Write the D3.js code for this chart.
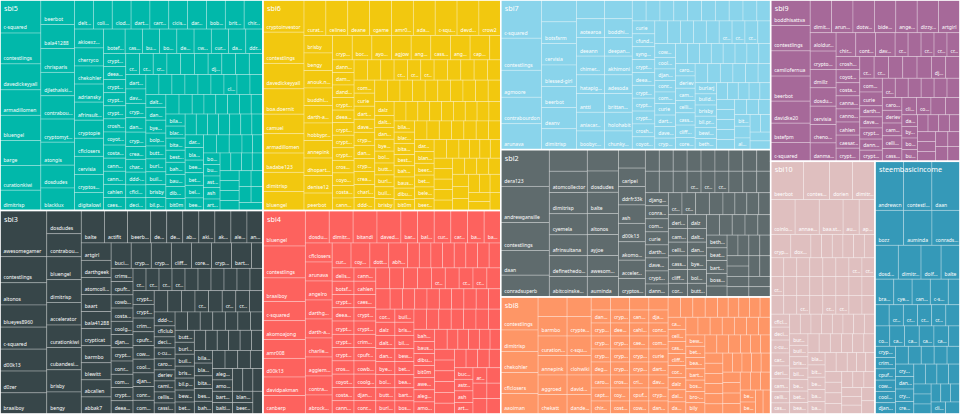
<!DOCTYPE html>
<html><head><meta charset="utf-8">
<script src="https://cdn.jsdelivr.net/npm/d3@7"></script>
<style>html,body{margin:0;padding:0;background:#fff;overflow:hidden}svg{display:block}</style>
</head><body><svg id="chart" width="960" height="414"></svg>
<script>
const groupNames = ["sbi5","sbi3","sbi6","sbi4","sbi7","sbi2","sbi8","sbi9","sbi10","steembasicincome"];
const groupColors = ["#01B8AA","#374649","#F2C80F","#FD625E","#8AD4EB","#5F6B6D","#FE9666","#A66999","#DFBFBF","#3599B8"];

const sbi5Names = ["c-squared","contestlings","davedickeyyall","armadillomen","bluengel","barge","curationkiwi","dimitrisp","beerbot","bala41288","chrisparis","djlethalskillz","contrabourdon","cryptomythical","atongis","dosdudes","blacklux","deltastar","colinhoward","clodius","darthnava","carrinm","cicisaja","darkflame","bobaphet","brittandjosie","chireerocks","akioexzgamer","cherryco","chekohler","adriansky","afrinsultana","cryptopie","cflclosers","cervisia","cryptoseeker","digitalowl","botefarm","cassidy","bucipuci","bodie7","degrinaldi","cwow2","currie","davidke20","ddrfr33k"];
const sbi5Values = [1350,1260,1060,1040,1030,1020,1010,830,
830,810,800,790,785,780,775,770,760,
548,548,548,548,548,548,548,548,548,548,548,
525,525,525,525,525,525,525,525,525,525,
420,420,420,420,420,420,420,420,
290,290,290,290,290,290,290,290,290,290,290,290,290,290,290,290,290,290,290,290,290,290,290,290,290,290,290,
258,258,258,258,258,258,258,258,258,258,258,258,258,258,258,258,258,258,258,258,258,258,258,258,258,
232,232,232,232,232,232,232,232,232,232,232,232,232,232,232,232,232,232,232,232,232,232,232,232,232,232,232,232,232,232,
190,190,190,190,190,190,190,190,190,190,190,190,190,190,190,190,190,190,190,190];

const sbi3Names = ["awesomegamer","contestlings","altonos","blueyes8960","c-squared","d00k13","d0zer","braaiboy","dosdudes","contrabourdon","bluengel","dimitrisp","accelerator","curationkiwi","cubandesign","brisby","bengy","balte","actifit","beerbot","devann","deathwing","abitcoinskeptic","akiroq","akomoajong","alexvan","angelro","artgirl","darthgeek","atomcollector","baart","bala41288","crypticat","barmbo","blewitt","abcallen","abbak7","bucipuci","cryptoandcoffee","cryptobarry","cliffagreen","coreyjames","cryptogee","bartheek","crosheille","crimsonclad","cpufronz","cowboyblazerfan","costanza","coolguy222","djangoz","cryptokraze","conradt","commonlaw"];
const sbi3Values = [2160,1220,1040,1035,1030,1025,1020,990,
800,795,790,785,780,775,770,765,760,
750,750,750,
520,520,520,520,520,520,520,520,
510,510,510,510,510,510,510,510,510,510,510,510,510,510,510,510,
290,290,290,290,290,290,290,290,290,290,290,290,290,290,290,290,290,290,290,290,290,290,290,290,290,290,290,290,290,290,290,290,290,290,290,290,290,290,290,290,
230,230,230,230,230,230,230,230,230,230,230,230,230,230,230,230,230,230,230,230,230,230,230,230,230,230,230,230,230,230,230,230,230,230,230,230,230,230,230,230,230,230,230,230,230,230,230];

const sbi6Names = ["cryptoinvestor","contestlings","davedickeyyall","boa.doernit","camuel","armadillomen","badabe123","dimitrisp","bluengel","curationkiwi","celineo","deane","cgame","amr008","adamada","c-squared","devdagon","crow2","brisby","bengy","anouk.nox","buddhiham","darth-azrael","hobbyprojects","annepink","dhopartners","denise12","peerbot","cryptobarry","bocalyptos","ayonatan","agjow","angelro","cassiopeia","angelica7","capbrothers","contrabourdon","dannyboy","dammyjay","dandiscovery"];
const sbi6Values = [1320,1280,1045,1040,800,795,790,785,785,
775,775,775,775,775,775,775,775,775,
500,500,500,500,500,500,500,500,500,500,
480,480,480,480,480,480,480,480,
270,270,270,270,270,270,270,270,270,270,270,270,270,270,270,270,270,270,270,270,270,270,270,270,270,270,270,270,270,270,270,270,270,270,270,270,270,270,270,270,270,270,270,270,270,
230,230,230,230,230,230,230,230,230,230,230,230,230,230,230,230,230,230,230,230,230,230,230,230,230,230,230,230,230,230,230,230,230,230,230,230,230,230,230,230,
194,194,194,194,194,194,194,194,194,194,194,194,194,194,194,194,194,194,194,194,194,194];

const sbi4Names = ["bluengel","contestlings","braaiboy","c-squared","akomoajong","amr008","d00k13","davidpakman","canberp","dosdudes","dimitrisp","bitandi","davedickeyyall","bartheek","balte","curie","carobeiro","baasdebeer","backinblackdevil","cflclosers","arunava","angelro","darthgameover","darth-azrael","charlie777pt","aggiemun","contrabourdon","abrockman","curationkiwi","coyotelation","dotteiroth","abh12345","deathwing","deeann","carrinm","defiwiz","bolpen","buckaroobaby","bridgeq","brisby","delishtaste","botsfarm"];
const sbi4Values = [1500,1350,1000,810,800,795,790,785,780,
775,775,775,775,
540,540,540,540,540,540,
510,510,510,510,510,510,510,510,510,
470,470,470,470,
290,290,290,290,290,290,290,290,290,290,290,290,290,290,290,290,290,290,290,290,290,290,290,290,290,290,290,290,290,290,290,290,290,290,290,290,290,290,290,290,
250,250,250,250,250,250,250,250,250,250,250,250,250,250,250,250,250,250,250,250,250,250,250,250,250,250,250,250,250,250,250,250,250,250,250,250,250,250,250,250,
214,214,214,214,214,214,214,214,214,214,214,214,214,214,214,214,214,214,214,214,214,214,214,214,214];

const sbi7Names = ["c-squared","contestlings","agmoore","contrabourdon","arunava","bobbylee","botsfarm","cervisia","blessed-girl","beerbot","deanv","dimitrisp","brightgold","aotearoa","deeann","chimerablog","hatapiggy","antti","aniacarmela","boobychan","clayboyn","boddhisattva","deepankar","akhimoni","adesoda","brittandjosie","holohabit","chunkybeef","desolatenox","captainbob","cattaqq","calisto","cicisaja","clumsysilverdad","brisby","brickpiles","cryptobarry","crymeariver","curie","cfundsteem","syngenesis"];
const sbi7Values = [1560,1310,1100,1080,1060,
760,755,750,745,740,735,730,
525,525,525,525,525,525,525,525,
520,520,520,520,520,520,520,520,
290,290,290,290,290,290,290,290,290,290,290,290,290,290,290,290,290,290,290,290,290,290,290,290,290,290,290,290,290,290,
240,240,240,240,240,240,240,240,240,240,240,240,240,240,240,240,240,240,240,240,240,240,240,240,240,240,240,240,240,240,240,240,240,240,240,
181,181,181,181,181,181,181,181,181,181,181,181,181,181,181,181,181,181,181,181];

const sbi2Names = ["dera123","andrewgansille","contestlings","daan","conradsuperb","bozz","atomcollector","dimitrisp","cyemela","afrinsultana","definethedollar","abitcoinskeptic","dolfeelbors","dosdudes","balte","altonos","ayjoe","awesomegamer","auminda","cryptoeater","carlpei","ddrfr33k","ash","d00k13","akomoajong","accelerator","cryptoslicex"];
const sbi2Values = [1780,1760,1350,1200,1060,
820,810,805,800,795,790,780,
665,662,660,658,655,650,640,
495,495,495,495,495,495,495,495,
300,300,300,300,300,300,300,300,300,300,300,300,300,300,300,300,300,300,300,300,300,300,300,300,300,300,300,300,300,300,
262,262,262,262,262,262,262,262,262,262,262,262,262,262,262,262,262,262,262,262,262,262,262,262,262,
225,225,225,225,225,225,225,225,225,225,225,225,225];

const sbi8Names = ["contestlings","dimitrisp","chekohler","cflclosers","aaoiman","cryptoandcoffee","barmbo","curationkiwi","annepink","aggroed","chekatt","cryptomythical","cryptebar","c-squared","clohwiki","davidke20","dandesign86","danturner","dannewton","cryptopie","cryptogee","cryptokraze","degrinaldi","carobeiro","captainbob","chireerocks","abidimukhtar"];
const sbi8Values = [1230,800,790,785,760,
565,565,565,565,565,565,
470,470,470,470,470,470,
250,250,250,250,250,250,250,250,250,250,250,250,250,250,250,250,250,250,250,250,250,250,250,250,250,250,250,250,250,250,250,250,250,250,250,250,250,250,250,250,
215,215,215,215,215,215,215,215,215,215,215,215,215,215,215,215,215,215,215,215,215,215,215,215,215,215,215,215,215,215,
182,182,182,182,182,182,182,182,182,182,182,182,182,182,182,182,182,182,182,182,182,182,182,182,182];

const sbi9Names = ["boddhisattva","contestlings","camilofernua","beerbot","davidke20","bstefpm","c-squared","dimitrisp","arunava","dotwin1981","bidesign","angelro","dizzyapple","artgirl","aloldurapp","cryptopie","dmillz","dosdudes","cervisia","chenohcrypto","danmarian","chireerocks","contrabourdon","davemccoy"];
const sbi9Values = [1010,1000,995,990,870,760,745,
700,700,700,700,700,700,700,
476,476,476,476,476,476,476,
470,470,470,
310,310,310,310,310,310,310,310,310,310,310,310,310,310,310,310,310,310,310,310,310,310,
250,250,250,250,250,250,250,250,250,250,250,250,250,250,250,250,250,250,250,250,
180,180,180,180,180,180,180,180,180,180,180,180,180,180,180];

const sbi10Names = ["beerbot","contestlings","dorien","dimitrisp","coinlogic","annaera","baa.steem","auminda","apolymarket","cryptopie","doxmarket"];
const sbi10Values = [1260,1000,880,860,
850,840,830,560,550,
470,470,
250,250,250,250,250,250,
245,245,245,245,245,245,245,245,245,245,245,245,245,245,245,245,245,245,245,245,245,245,245,245,245,245,245,245,245,245,
210,210,210,210,210,210,210,210,210,210,210,210,210,210,210,210,210,210,210,210,210,210,210,210,210,210,210,210,210,210,
176,176,176,176,176,176,176,176,176,176,176,176,176,176,176];

const sbiNames = ["andrewcn","contestlings","daan","bozz","auminda","conradsuperb","dosdudes","dimitrisp","dolfeelbors","balte","braaiboy","cyemela","canadian-coconut","c-squared"];
const sbiValues = [1400,1390,1380,
1000,990,980,
790,770,680,640,
480,470,465,460,
300,300,300,300,300,300,300,300,300,300,300,300,
230,230,230,230,230,230,230,230,230,230,230,230,230,230,230,230,230,230,230,230,
173,173,173,173,173,173,173,173];

// other member accounts (smaller holdings)
const tailNames = ["cryptoandcoffee","deeann","cryptobarry","cryptogee","cryptokraze","crosheille","coyotelation","costanza","cannabis-ky","cannonwar","cahlen","caesar21","cryptosharon","cryptoeater","crimsonclad","cpufronz","cowboyblazerfan","coolguy222","djangoz","conradt","commonlaw","curie","darth-cryptic","davemccoy","cryptolina","dannewton","crypteddy","creativetruth","charlie777pt","ddd-ddd","cflclub","decibel","c-cubed","carobeiro","deriev","camillesteemer","cellisto","cassiopeia","cliffagreen","coreyjames","dalz","daltono","dandesign86",
"byebye","bolpen","buttcoins","burlarj","buildteam","brisby","bil.prag","bewithbreath","bethcoins","beatbeat","barton","bosseteam","bro-mahbub","bily","bless-ed","bilanmagazine","blackpen","bitandi","bestthisday","bahagia-arbi","bausaeit","dibuchete","bit0m","awesomianist","alegomerchant","amosbastian","bartheek","balticbadger","backinblackdevil","baasdebeer","darkcalypso","blanchy","beerlover","bethalea","belemo","beeridiculous","bachuslib","bartosz546","bengiles","bempie","baroldi","boxcarblue","buckaroobaby",
"astrophoto","ash","artgirl","arquitecto","dorien","antmelvin","andrewcn","andrejcibik","amrooo","amico","amberyooper","alokkumar","akipponn","ajisbokumorty","aeilly","acostacb","acrstine","able1","arteazul","arcange","aotearoa","antinomie","antichef","antoniarhuiz","doitvoluntary","alsorizz","alexvan","alejandra","ddrfinance","alyuzuf","aggroed","adsactly","anouk.nox","aiyumi","angelica7","akiroq","akinohana","ahmedsy","adiana","nonameslefttouse","alphamonkero","allyson19","artisteem","apolymarket","aid4all","abrockman","djynn"];

const groupNamesList = [sbi5Names,sbi3Names,sbi6Names,sbi4Names,sbi7Names,sbi2Names,sbi8Names,sbi9Names,sbi10Names,sbiNames];
const groupValuesList = [sbi5Values,sbi3Values,sbi6Values,sbi4Values,sbi7Values,sbi2Values,sbi8Values,sbi9Values,sbi10Values,sbiValues];

function leafName(names, i) {
  return i < names.length ? names[i] : tailNames[(i - names.length) % tailNames.length];
}

const data = {name: "root", children: groupNames.map((g, gi) => ({
  name: g, color: groupColors[gi],
  children: groupValuesList[gi].map((v, i) => ({name: leafName(groupNamesList[gi], i), value: v}))
}))};

const W = 960, H = 414;
const root = d3.hierarchy(data).sum(d => d.value).sort((a, b) => b.value - a.value);
d3.treemap().size([W, H]).tile(d3.treemapSquarify).round(false)(root);

const svg = d3.select("#chart");
const FONT = '"Segoe UI","Noto Sans","Open Sans",sans-serif';
const LEAF_FS = 5.0, GROUP_FS = 7.2;
const ctx = document.createElement("canvas").getContext("2d");
function fit(text, maxW, fs) {
  ctx.font = fs + "px " + FONT;
  if (ctx.measureText(text).width <= maxW) return text;
  for (let n = text.length - 1; n >= 2; n--) {
    const t = text.slice(0, n) + "...";
    if (ctx.measureText(t).width <= maxW) return t;
  }
  return null;
}

const groups = svg.selectAll("g.grp").data(root.children).join("g").attr("class", "grp");

groups.each(function(g) {
  const sel = d3.select(this);
  const color = g.data.color;
  sel.selectAll("rect.leaf").data(g.leaves()).join("rect").attr("class", "leaf")
    .attr("x", d => d.x0).attr("y", d => d.y0)
    .attr("width", d => Math.max(0, d.x1 - d.x0)).attr("height", d => Math.max(0, d.y1 - d.y0))
    .attr("fill", color).attr("stroke", "rgba(255,255,255,0.33)").attr("stroke-width", 0.8);
  sel.append("rect")
    .attr("x", g.x0).attr("y", g.y0).attr("width", g.x1 - g.x0).attr("height", g.y1 - g.y0)
    .attr("fill", "none").attr("stroke", "#fff").attr("stroke-width", 1.6);
  g.leaves().forEach(d => {
    const w = d.x1 - d.x0, h = d.y1 - d.y0;
    const by = d.y1 - 3.6;
    if (h < 11 || by < g.y0 + 19) return;
    const t = fit(d.data.name, w - 5, LEAF_FS);
    if (!t) return;
    sel.append("text").attr("x", d.x0 + 3.5).attr("y", by)
      .attr("fill", "#fff").attr("font-family", FONT).attr("font-size", LEAF_FS).text(t);
  });
  sel.append("text").attr("x", g.x0 + 4).attr("y", g.y0 + 11)
    .attr("fill", "#fff").attr("font-family", FONT).attr("font-size", GROUP_FS).text(g.data.name);
});
</script></body></html>
